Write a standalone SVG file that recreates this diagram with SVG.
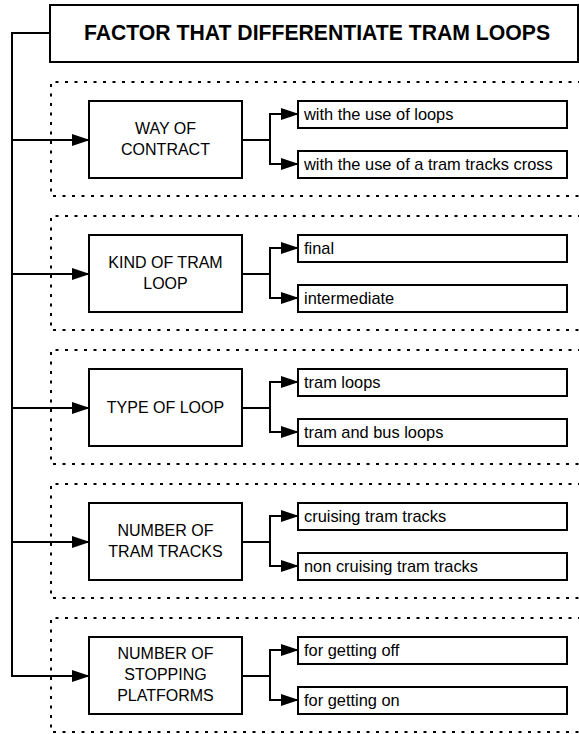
<svg xmlns="http://www.w3.org/2000/svg" width="579" height="734" viewBox="0 0 579 734">
<style>
  .box{fill:#fff;stroke:#000;stroke-width:2}
  .grp{fill:none;stroke:#000;stroke-width:2;stroke-dasharray:3 6.5}
  .ln{fill:none;stroke:#000;stroke-width:2}
  .title{font-family:"Liberation Sans",Arial,sans-serif;font-weight:bold;font-size:21.2px;text-anchor:middle;fill:#000}
  .node{font-family:"Liberation Sans",Arial,sans-serif;font-size:16px;text-anchor:middle;fill:#000}
  .leaf{font-family:"Liberation Sans",Arial,sans-serif;font-size:16.4px;fill:#000}
</style>
<defs>
  <marker id="ah" markerUnits="userSpaceOnUse" markerWidth="18" markerHeight="12" refX="17" refY="6" orient="auto">
    <path d="M0,0 L18,6 L0,12 z" fill="#000"/>
  </marker>
</defs>
<rect width="579" height="734" fill="#fff"/>

<g id="groups">
  <path class="grp" d="M600,82 H51 V196 H600"/>
  <path class="grp" d="M600,216 H51 V330 H600"/>
  <path class="grp" d="M600,350 H51 V464 H600"/>
  <path class="grp" d="M600,484 H51 V598 H600"/>
  <path class="grp" d="M600,618 H51 V732 H600"/>
</g>

<g id="connectors">
  <path class="ln" d="M50,33 H12 V676 H89" marker-end="url(#ah)"/>
  <path class="ln" d="M12,140 H89" marker-end="url(#ah)"/>
  <path class="ln" d="M12,274 H89" marker-end="url(#ah)"/>
  <path class="ln" d="M12,408 H89" marker-end="url(#ah)"/>
  <path class="ln" d="M12,542 H89" marker-end="url(#ah)"/>

  <path class="ln" d="M242,140 H270 V114 H298" marker-end="url(#ah)"/>
  <path class="ln" d="M270,140 V164 H298" marker-end="url(#ah)"/>
  <path class="ln" d="M242,274 H270 V248 H298" marker-end="url(#ah)"/>
  <path class="ln" d="M270,274 V298 H298" marker-end="url(#ah)"/>
  <path class="ln" d="M242,408 H270 V382 H298" marker-end="url(#ah)"/>
  <path class="ln" d="M270,408 V432 H298" marker-end="url(#ah)"/>
  <path class="ln" d="M242,542 H270 V516 H298" marker-end="url(#ah)"/>
  <path class="ln" d="M270,542 V566 H298" marker-end="url(#ah)"/>
  <path class="ln" d="M242,676 H270 V650 H298" marker-end="url(#ah)"/>
  <path class="ln" d="M270,676 V700 H298" marker-end="url(#ah)"/>
</g>

<g id="title">
  <rect class="box" x="50" y="5" width="528" height="57"/>
  <text class="title" x="317" y="40">FACTOR THAT DIFFERENTIATE TRAM LOOPS</text>
</g>

<g id="n1">
  <rect class="box" x="89" y="101" width="153" height="77"/>
  <text class="node" x="165.5" y="134">WAY OF</text>
  <text class="node" x="165.5" y="155">CONTRACT</text>
</g>
<g id="n1a"><rect class="box" x="298" y="101" width="269" height="27"/><text class="leaf" x="304" y="120">with the use of loops</text></g>
<g id="n1b"><rect class="box" x="298" y="151" width="269" height="27"/><text class="leaf" x="304" y="170">with the use of a tram tracks cross</text></g>

<g id="n2">
  <rect class="box" x="89" y="235" width="153" height="77"/>
  <text class="node" x="165.5" y="268">KIND OF TRAM</text>
  <text class="node" x="165.5" y="289">LOOP</text>
</g>
<g id="n2a"><rect class="box" x="298" y="235" width="269" height="27"/><text class="leaf" x="304" y="254">final</text></g>
<g id="n2b"><rect class="box" x="298" y="285" width="269" height="27"/><text class="leaf" x="304" y="304">intermediate</text></g>

<g id="n3">
  <rect class="box" x="89" y="369" width="153" height="77"/>
  <text class="node" x="165.5" y="413">TYPE OF LOOP</text>
</g>
<g id="n3a"><rect class="box" x="298" y="369" width="269" height="27"/><text class="leaf" x="304" y="388">tram loops</text></g>
<g id="n3b"><rect class="box" x="298" y="419" width="269" height="27"/><text class="leaf" x="304" y="438">tram and bus loops</text></g>

<g id="n4">
  <rect class="box" x="89" y="503" width="153" height="77"/>
  <text class="node" x="165.5" y="536">NUMBER OF</text>
  <text class="node" x="165.5" y="557">TRAM TRACKS</text>
</g>
<g id="n4a"><rect class="box" x="298" y="503" width="269" height="27"/><text class="leaf" x="304" y="522">cruising tram tracks</text></g>
<g id="n4b"><rect class="box" x="298" y="553" width="269" height="27"/><text class="leaf" x="304" y="572">non cruising tram tracks</text></g>

<g id="n5">
  <rect class="box" x="89" y="637" width="153" height="77"/>
  <text class="node" x="165.5" y="659">NUMBER OF</text>
  <text class="node" x="165.5" y="680">STOPPING</text>
  <text class="node" x="165.5" y="701">PLATFORMS</text>
</g>
<g id="n5a"><rect class="box" x="298" y="637" width="269" height="27"/><text class="leaf" x="304" y="656">for getting off</text></g>
<g id="n5b"><rect class="box" x="298" y="687" width="269" height="27"/><text class="leaf" x="304" y="706">for getting on</text></g>
</svg>
